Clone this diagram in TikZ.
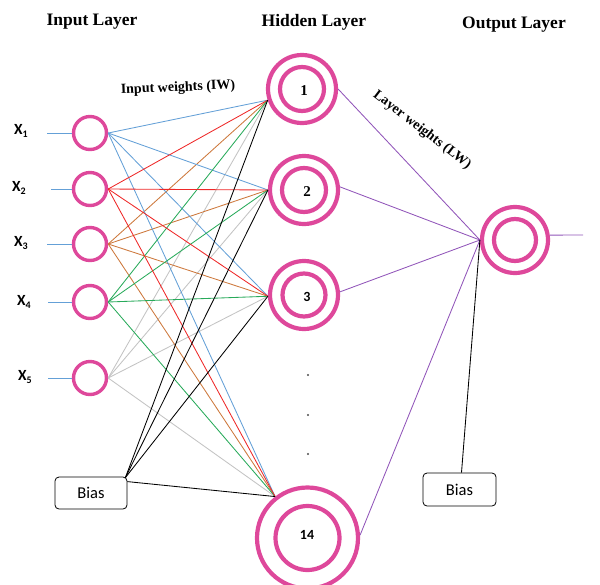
\documentclass[tikz,border=0pt]{standalone}
\usepackage{fontspec}
\setmainfont{Liberation Serif}
\newfontfamily\calfont{Carlito}
\definecolor{pinkc}{RGB}{222,72,155}
\definecolor{cblue}{RGB}{100,160,215}
\definecolor{cred}{RGB}{238,40,40}
\definecolor{corange}{RGB}{205,120,60}
\definecolor{cgreen}{RGB}{40,170,90}
\definecolor{cgray}{RGB}{195,195,195}
\definecolor{cpurple}{RGB}{145,85,185}
\begin{document}
\begin{tikzpicture}[x=1pt,y=-1pt,
  incirc/.style={circle,draw=pinkc,line width=3.4pt,minimum size=33pt,inner sep=0pt},
  ring/.style={circle,draw=pinkc,line width=4.2pt,inner sep=0pt},
  conn/.style={line width=0.85pt},
  biasbox/.style={draw,rounded corners=4pt,line width=0.8pt,minimum width=72pt,minimum height=32pt,font=\calfont\fontsize{16.5}{18}\selectfont},
  title/.style={font=\bfseries\fontsize{17.5}{20}\selectfont},
  wlabel/.style={font=\bfseries\fontsize{14}{16}\selectfont},
  xlab/.style={font=\calfont\bfseries\fontsize{15.5}{17}\selectfont},
  numf/.style={font=\bfseries\fontsize{15}{17}\selectfont},
  numc/.style={font=\calfont\bfseries\fontsize{14}{16}\selectfont},
  dotn/.style={circle,fill=black!70,inner sep=0pt,minimum size=2.4pt}
]
\useasboundingbox (0,0) rectangle (600,584);

% titles
\node[title] (t1) at (92,22) {Input Layer};
\node[title] (t2) at (314,22) {Hidden Layer};
\node[title] (t3) at (514,25) {Output Layer};
\node[wlabel,rotate=2.5] (iw) at (178,88) {Input weights (IW)};
\node[wlabel,rotate=-37.6] (lw) at (422,130) {Layer weights (LW)};

% input nodes
\node[incirc] (i1) at (90,133) {};
\node[incirc] (i2) at (90,189) {};
\node[incirc] (i3) at (90,244) {};
\node[incirc] (i4) at (90,302) {};
\node[incirc] (i5) at (90,378) {};

\node[xlab] (x1) at (21,131) {X\raisebox{-3pt}{\fontsize{10}{10}\selectfont 1}};
\node[xlab] (x2) at (19,188) {X\raisebox{-3pt}{\fontsize{10}{10}\selectfont 2}};
\node[xlab] (x3) at (21,243) {X\raisebox{-3pt}{\fontsize{10}{10}\selectfont 3}};
\node[xlab] (x4) at (24,302) {X\raisebox{-3pt}{\fontsize{10}{10}\selectfont 4}};
\node[xlab] (x5) at (25,377) {X\raisebox{-3pt}{\fontsize{10}{10}\selectfont 5}};

\coordinate (s1) at (47,133);
\coordinate (s2) at (51,189);
\coordinate (s3) at (47,244);
\coordinate (s4) at (48,302);
\coordinate (s5) at (48,378);
\foreach \k in {1,...,5} \draw[conn,cblue] (s\k) -- (i\k.west);

% bias boxes
\node[biasbox] (bias) at (91,493) {Bias};
\node[biasbox,minimum width=73pt,minimum height=33pt] (obias) at (459.5,489.5) {Bias};

% hidden nodes
\node[ring,minimum size=68pt] (h1) at (302,89) {};
\node[ring,minimum size=44pt] (h1i) at (302,89) {};
\node[numf] (n1) at (304,91) {1};
\node[ring,minimum size=68pt] (h2) at (304,190) {};
\node[ring,minimum size=44pt] (h2i) at (304,190) {};
\node[numf] (n2) at (307,192) {2};
\node[ring,minimum size=68pt] (h3) at (304,295) {};
\node[ring,minimum size=43pt] (h3i) at (304,295) {};
\node[numc] (n3) at (307,297) {3};
\node[ring,minimum size=101pt] (h14) at (307.5,538) {};
\node[ring,minimum size=64pt] (h14i) at (307.5,538) {};
\node[numc] (n14) at (307,535) {14};

\node[dotn] (d1) at (308,375) {};
\node[dotn] (d2) at (308,415) {};
\node[dotn] (d3) at (308,454) {};

% output node
\node[ring,minimum size=66pt] (o) at (515,240) {};
\node[ring,minimum size=42pt] (oi) at (515,240) {};

% convergence points
\coordinate (c1) at (h1.198);
\coordinate (c2) at (h2.180);
\coordinate (c3) at (h3.182);
\coordinate (c14) at (h14.128);
\coordinate (bs) at ([xshift=-2pt,yshift=-1pt]bias.north east);

% input -> hidden
\foreach \k/\c in {5/cgray,3/corange,1/cblue,4/cgreen,2/cred}
  \foreach \h in {c1,c2,c3,c14}
    \draw[conn,\c] (i\k.east) -- (\h);
\foreach \h in {c1,c2,c3}
  \draw[conn,black] (bs) -- (\h);
\draw[conn,black] ([yshift=-5pt]bias.north east) -- (c14);

% hidden -> output
\draw[conn,cpurple] (h1.0) -- (o.west);
\draw[conn,cpurple] (h2.5) -- (o.west);
\draw[conn,cpurple] (h3.5) -- (o.west);
\draw[conn,cpurple] (h14.3) -- (o.west);
\draw[conn,black] ([xshift=2pt]obias.north) -- (o.west);

\coordinate (oend) at (583,235);
\draw[conn,cpurple] (o.8) -- (oend);
\end{tikzpicture}
\end{document}
